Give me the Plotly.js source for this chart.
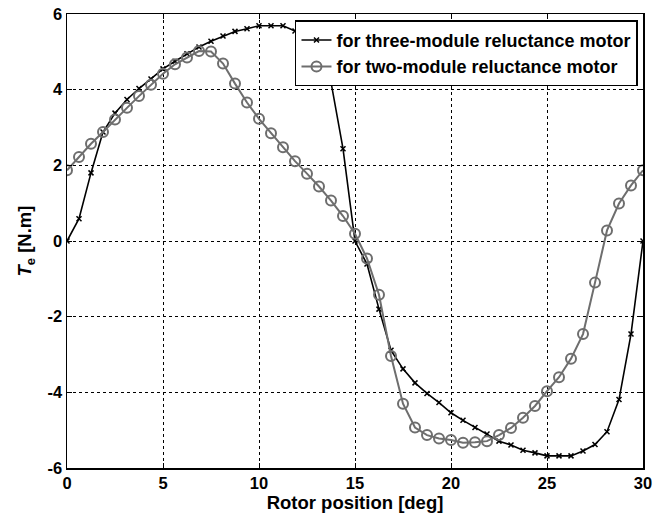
<!DOCTYPE html>
<html>
<head>
<meta charset="utf-8">
<script src="https://cdn.plot.ly/plotly-3.0.1.min.js"></script>
<style>body{margin:0;padding:0;background:#fff}#chart{width:653px;height:515px}</style>
</head>
<body>
<div id="chart"></div>
<script>
const rotorPosition = [0,0.625,1.25,1.875,2.5,3.125,3.75,4.375,5,5.625,6.25,6.875,7.5,8.125,8.75,9.375,10,10.625,11.25,11.875,12.5,13.125,13.75,14.375,15,15.625,16.25,16.875,17.5,18.125,18.75,19.375,20,20.625,21.25,21.875,22.5,23.125,23.75,24.375,25,25.625,26.25,26.875,27.5,28.125,28.75,29.375,30];
const torqueThreeModule = [0,0.59,1.80,2.88,3.38,3.74,4.03,4.28,4.55,4.75,4.95,5.13,5.28,5.42,5.54,5.61,5.69,5.69,5.69,5.55,5.38,5.04,4.20,2.44,0.0,-0.61,-1.80,-2.89,-3.38,-3.75,-4.03,-4.27,-4.54,-4.74,-4.93,-5.10,-5.29,-5.39,-5.53,-5.60,-5.68,-5.68,-5.68,-5.55,-5.38,-5.04,-4.19,-2.46,0.0];
const torqueTwoModule = [1.87,2.22,2.57,2.88,3.21,3.52,3.83,4.13,4.42,4.67,4.85,5.02,5.01,4.69,4.16,3.66,3.23,2.85,2.48,2.11,1.78,1.44,1.07,0.66,0.19,-0.46,-1.42,-3.04,-4.30,-4.93,-5.13,-5.22,-5.26,-5.33,-5.32,-5.29,-5.13,-4.94,-4.67,-4.36,-3.97,-3.60,-3.11,-2.46,-1.10,0.28,0.99,1.47,1.87];
const seriesNames = ['for three-module reluctance motor','for two-module reluctance motor'];
const xTicks = [0,5,10,15,20,25,30];
const yTicks = [-6,-4,-2,0,2,4,6];

const fam = 'Liberation Sans, Arial, sans-serif';
const tickFont = {family:fam, size:16.5, color:'#000', weight:'bold'};
const titleFont = {family:fam, size:18.5, color:'#000', weight:'bold'};
const traces = [
  {x:rotorPosition, y:torqueThreeModule, name:seriesNames[0], type:'scatter', mode:'lines+markers',
   line:{color:'#000', width:1.6}, marker:{symbol:'x-thin-open', size:5, color:'#000', line:{color:'#000', width:1.5}}},
  {x:rotorPosition, y:torqueTwoModule, name:seriesNames[1], type:'scatter', mode:'lines+markers',
   line:{color:'#6e6e6e', width:2}, marker:{symbol:'circle-open', size:10, color:'#6e6e6e', line:{color:'#6e6e6e', width:2}}}
];
const axisCommon = {showline:true, linecolor:'#000', linewidth:1.5, mirror:'ticks', ticks:'inside', ticklen:5,
  tickcolor:'#000', tickwidth:1, showgrid:true, gridcolor:'#000', gridwidth:1, griddash:'3px,3px',
  zeroline:false, tickfont:tickFont};
const layout = {
  width:653, height:515, paper_bgcolor:'#fff', plot_bgcolor:'#fff',
  margin:{l:67, r:10, t:14, b:47},
  showlegend:true,
  legend:{x:0.9913, y:0.986, xanchor:'right', yanchor:'top', bgcolor:'#fff', bordercolor:'#000', borderwidth:1.5,
    font:{family:fam, size:18, color:'#000', weight:'bold'}, tracegroupgap:0, itemwidth:30},
  xaxis:Object.assign({}, axisCommon, {range:[0,30], tickvals:xTicks, ticktext:xTicks.map(String),
    title:{text:'Rotor position [deg]', font:titleFont, standoff:0}}),
  yaxis:Object.assign({}, axisCommon, {range:[-6,6], tickvals:yTicks, ticktext:yTicks.map(String),
    title:{text:'<i>T</i><sub>e</sub> [N.m]', font:titleFont, standoff:11}})
};
Plotly.newPlot('chart', traces, layout, {displayModeBar:false, staticPlot:true});
</script>
</body>
</html>
